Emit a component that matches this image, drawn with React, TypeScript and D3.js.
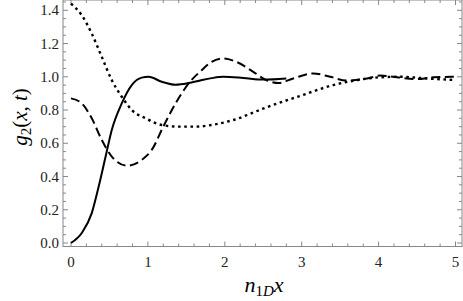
import { useMemo } from "react";
import * as d3 from "d3";

// solid curve
const solidX = [0, 0.14, 0.27, 0.36, 0.45, 0.53, 0.66, 0.79, 0.92, 1.01, 1.18, 1.36, 1.53, 1.68, 1.83, 1.98, 2.24, 2.5, 2.8];
const solidY = [0, 0.06, 0.18, 0.34, 0.52, 0.68, 0.84, 0.95, 0.995, 1.0, 0.97, 0.952, 0.962, 0.978, 0.992, 1.0, 0.993, 0.983, 0.99];

// dashed curve
const dashedX = [0, 0.14, 0.27, 0.4, 0.53, 0.73, 0.92, 1.05, 1.2, 1.36, 1.53, 1.7, 1.83, 1.98, 2.15, 2.37, 2.54, 2.7, 2.89, 3.15, 3.37, 3.58, 3.85, 4.02, 4.24, 4.5, 4.71, 5.0];
const dashedY = [0.87, 0.84, 0.75, 0.62, 0.52, 0.465, 0.5, 0.56, 0.7, 0.84, 0.96, 1.04, 1.09, 1.11, 1.09, 1.03, 0.98, 0.962, 0.99, 1.02, 1.0, 0.977, 0.99, 1.007, 0.997, 0.986, 0.997, 1.0];

// dotted curve
const dottedX = [0, 0.14, 0.27, 0.4, 0.53, 0.66, 0.79, 0.97, 1.18, 1.4, 1.62, 1.83, 2.11, 2.54, 2.98, 3.41, 3.72, 4.02, 4.28, 4.63, 5.0];
const dottedY = [1.44, 1.37, 1.26, 1.12, 0.98, 0.88, 0.8, 0.75, 0.71, 0.7, 0.7, 0.71, 0.74, 0.816, 0.885, 0.95, 0.98, 0.997, 1.0, 0.99, 0.98];

const xTicks = [0, 1, 2, 3, 4, 5];
const yTicks = [0, 0.2, 0.4, 0.6, 0.8, 1.0, 1.2, 1.4];

const W = 463;
const H = 301;
const frame = { left: 63, right: 462, top: 0, bottom: 246.5 };
const font = "'Liberation Serif', 'Times New Roman', serif";

export default function App() {
  const x = useMemo(
    () => d3.scaleLinear().domain([0, 5]).range([71, 455.5]),
    []
  );
  const y = useMemo(
    () => d3.scaleLinear().domain([0, 1.4]).range([243, 10.3]),
    []
  );

  const line = d3
    .line<[number, number]>()
    .x((d) => x(d[0]))
    .y((d) => y(d[1]))
    .curve(d3.curveMonotoneX);

  const series = [
    { xs: solidX, ys: solidY, dash: undefined, width: 2 },
    { xs: dashedX, ys: dashedY, dash: "9,4.5", width: 2 },
    { xs: dottedX, ys: dottedY, dash: "2.6,3.6", width: 2.4 },
  ];

  // minor ticks
  const xMinor = d3.range(0, 5.01, 0.2).filter((v) => Math.abs(v - Math.round(v)) > 1e-6);
  const yMinor = d3.range(0, 1.46, 0.05).filter((v) => Math.abs(v * 5 - Math.round(v * 5)) > 1e-6);

  const frameColor = "#888";

  return (
    <div style={{ position: "fixed", left: 0, top: 0 }}>
      <svg width={W} height={H} viewBox={`0 0 ${W} ${H}`} style={{ display: "block" }}>
        <rect width={W} height={H} fill="white" />

        {/* Frame */}
        <rect
          x={frame.left}
          y={frame.top}
          width={frame.right - frame.left}
          height={frame.bottom - frame.top}
          fill="none"
          stroke={frameColor}
          strokeWidth={1}
        />

        {/* x ticks bottom & top */}
        {xTicks.map((t) => (
          <g key={`xt-${t}`}>
            <line x1={x(t)} x2={x(t)} y1={frame.bottom} y2={frame.bottom - 5} stroke={frameColor} />
            <line x1={x(t)} x2={x(t)} y1={frame.top} y2={frame.top + 5} stroke={frameColor} />
            <text
              x={x(t)}
              y={frame.bottom + 20}
              textAnchor="middle"
              style={{ fontFamily: font, fontSize: "15px" }}
              fill="#222"
            >
              {t}
            </text>
          </g>
        ))}
        {xMinor.map((t, i) => (
          <g key={`xm-${i}`}>
            <line x1={x(t)} x2={x(t)} y1={frame.bottom} y2={frame.bottom - 3} stroke={frameColor} />
            <line x1={x(t)} x2={x(t)} y1={frame.top} y2={frame.top + 3} stroke={frameColor} />
          </g>
        ))}

        {/* y ticks left & right */}
        {yTicks.map((t) => (
          <g key={`yt-${t}`}>
            <line x1={frame.left} x2={frame.left + 5} y1={y(t)} y2={y(t)} stroke={frameColor} />
            <line x1={frame.right} x2={frame.right - 5} y1={y(t)} y2={y(t)} stroke={frameColor} />
            <text
              x={frame.left - 4}
              y={y(t) + 5}
              textAnchor="end"
              style={{ fontFamily: font, fontSize: "15px" }}
              fill="#222"
            >
              {t.toFixed(1)}
            </text>
          </g>
        ))}
        {yMinor.map((t, i) => (
          <g key={`ym-${i}`}>
            <line x1={frame.left} x2={frame.left + 3} y1={y(t)} y2={y(t)} stroke={frameColor} />
            <line x1={frame.right} x2={frame.right - 3} y1={y(t)} y2={y(t)} stroke={frameColor} />
          </g>
        ))}

        {/* Curves */}
        {series.map((s, i) => (
          <path
            key={i}
            d={line(s.xs.map((v, j) => [v, s.ys[j]] as [number, number])) ?? ""}
            fill="none"
            stroke="black"
            strokeWidth={s.width}
            strokeDasharray={s.dash}
          />
        ))}

        {/* Axis labels */}
        <text
          x={264}
          y={292}
          textAnchor="middle"
          style={{ fontFamily: font, fontSize: "22px" }}
        >
          <tspan fontStyle="italic">n</tspan>
          <tspan fontSize="15px" dy={4}>1</tspan>
          <tspan fontSize="15px" fontStyle="italic">D</tspan>
          <tspan fontStyle="italic" dy={-4}>x</tspan>
        </text>
        <text
          transform="translate(27,117) rotate(-90)"
          textAnchor="middle"
          style={{ fontFamily: font, fontSize: "21px" }}
        >
          <tspan fontStyle="italic">g</tspan>
          <tspan fontSize="15px" dy={4}>2</tspan>
          <tspan dy={-4}>(</tspan>
          <tspan fontStyle="italic">x</tspan>
          <tspan>, </tspan>
          <tspan fontStyle="italic">t</tspan>
          <tspan>)</tspan>
        </text>
      </svg>
    </div>
  );
}
